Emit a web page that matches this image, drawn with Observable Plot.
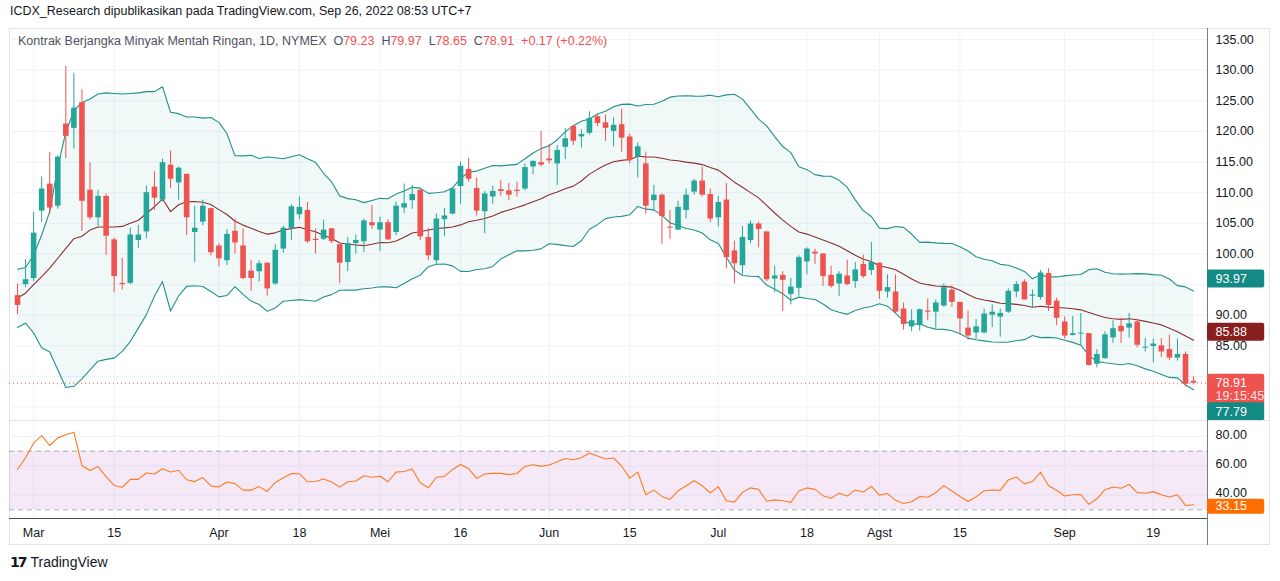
<!DOCTYPE html>
<html><head><meta charset="utf-8">
<script src="https://cdn.jsdelivr.net/npm/d3@7"></script>
<script src="https://cdn.jsdelivr.net/npm/@observablehq/plot@0.6"></script>
<style>
body{margin:0;background:#fff;font-family:"Liberation Sans",Arial,sans-serif;color:#131722;}
#wrap{position:relative;width:1280px;height:581px;overflow:hidden;}
.abs{position:absolute;}
#hdr{left:10px;top:4px;font-size:12.5px;}
#leg{left:18px;top:34px;font-size:12.5px;color:#50535e;}
#leg .v{color:#ef5350;}
#frame{left:9px;top:28px;width:1261px;height:517px;border:1px solid #e0e3eb;box-sizing:border-box;}
#foot{left:10px;top:554px;font-size:14px;color:#131722;}
#foot b{font-family:"DejaVu Sans";font-weight:900;letter-spacing:-2px;margin-right:5px;}
</style></head><body><div id="wrap">
<div id="hdr" class="abs">ICDX_Research dipublikasikan pada TradingView.com, Sep 26, 2022 08:53 UTC+7</div>
<div id="frame" class="abs"></div>
<div id="price" class="abs" style="left:9px;top:28px"></div>
<div id="rsi" class="abs" style="left:9px;top:420px"></div>
<div id="leg" class="abs">Kontrak Berjangka Minyak Mentah Ringan, 1D, NYMEX&nbsp; O<span class="v">79.23</span>&nbsp; H<span class="v">79.97</span>&nbsp; L<span class="v">78.65</span>&nbsp; C<span class="v">78.91</span>&nbsp; <span class="v">+0.17 (+0.22%)</span></div>
<div id="foot" class="abs"><b>17</b>TradingView</div>
</div>
<script>
const opens=[93.2,95.0,96.0,107.0,111.4,107.8,121.2,120.5,124.7,110.4,105.9,109.4,102.3,95.2,95.2,102.2,103.6,110.9,108.8,114.5,111.6,113.0,103.5,105.2,107.4,101.3,98.9,103.7,101.3,97.2,97.1,98.5,95.1,100.8,104.1,106.4,107.1,102.4,102.4,104.1,101.5,98.6,101.7,102.0,105.1,103.9,105.1,103.5,107.5,108.7,110.4,102.7,98.9,105.6,106.5,111.0,113.8,110.7,106.9,109.3,110.5,110.3,110.4,110.6,114.2,114.9,115.5,114.7,117.4,120.8,119.1,119.7,122.4,121.4,120.0,121.1,119.1,115.8,114.7,108.7,109.6,104.3,103.9,107.1,110.1,111.9,109.7,105.9,108.8,100.5,98.1,102.2,104.9,103.6,95.9,96.5,93.4,94.4,98.7,100.3,100.0,96.5,95.1,96.4,95.5,98.3,97.3,98.5,93.8,93.8,91.0,88.1,88.3,90.7,90.5,91.5,94.1,92.1,87.9,87.1,87.1,90.0,89.7,90.5,93.8,95.4,93.1,92.9,96.8,92.3,88.9,86.7,87.0,87.0,82.0,82.9,86.3,88.2,87.9,88.9,84.7,84.9,85.0,84.4,83.0,83.6,79.23];
const highs=[95.1,99.1,106.8,112.6,116.6,116.0,130.6,129.5,126.8,114.9,110.4,109.8,102.6,99.3,104.2,104.7,111.1,113.4,115.5,116.8,114.2,113.0,107.8,108.8,107.4,101.7,104.0,105.7,104.1,98.9,98.9,98.5,101.5,104.5,108.1,109.3,108.4,104.1,105.5,104.2,101.5,102.7,103.1,105.7,107.9,106.0,105.6,108.5,111.4,111.2,110.5,104.2,106.5,107.4,110.8,115.0,115.6,112.4,110.2,111.1,112.0,111.5,111.7,114.7,115.2,120.0,117.9,117.7,120.5,121.0,120.3,123.2,122.7,122.7,122.2,123.6,119.6,118.1,116.6,111.2,109.8,107.1,108.6,110.6,112.2,114.2,110.6,109.4,111.5,102.1,104.5,105.4,105.2,103.6,98.0,97.1,96.0,99.7,101.0,100.8,100.0,98.0,97.1,99.0,98.6,99.8,101.9,98.5,96.6,96.6,92.0,90.9,91.0,92.7,92.5,95.1,94.8,92.2,90.7,89.3,91.0,91.7,91.0,94.3,95.5,95.8,94.1,97.3,97.6,92.8,89.7,89.8,90.3,87.0,84.4,87.3,89.1,89.5,90.3,89.3,86.2,86.1,86.2,86.8,86.1,84.0,79.97];
const lows=[90.1,94.5,95.5,105.2,106.5,107.3,115.6,117.1,103.7,105.5,104.5,99.8,93.7,94.1,95.0,100.9,102.5,107.1,108.5,110.7,108.8,103.0,98.6,104.6,99.7,97.9,98.1,100.0,95.8,93.9,95.4,93.1,94.9,100.1,102.2,105.6,101.7,100.0,102.2,101.7,95.2,97.1,100.0,100.2,104.0,100.4,102.2,103.0,106.6,107.3,102.2,98.9,98.2,102.8,106.4,108.1,111.7,106.2,103.3,108.1,109.4,108.7,109.3,110.3,112.9,114.2,114.7,111.2,115.4,117.7,117.3,119.4,120.8,118.4,117.5,116.6,114.7,112.4,106.5,106.9,101.6,102.4,103.8,105.7,109.6,109.3,105.1,104.4,97.6,95.1,96.6,101.7,101.0,95.5,93.7,90.6,91.7,93.1,96.6,98.3,94.7,94.4,93.1,94.8,94.4,96.0,96.5,92.6,92.8,90.3,87.6,87.3,87.4,89.1,87.9,91.3,91.3,86.8,85.9,86.1,87.0,88.0,86.4,90.3,92.9,92.5,91.2,92.5,90.6,88.3,86.1,86.6,85.1,81.7,81.4,82.9,85.4,85.4,86.3,84.7,84.0,82.2,83.1,82.6,82.5,78.3,78.65];
const closes=[91.6,95.8,103.4,110.6,107.5,115.8,119.2,123.8,108.6,105.9,109.4,102.9,96.3,95.0,103.1,103.1,110.0,109.1,114.9,112.2,114.0,105.9,104.2,107.8,100.2,99.2,103.2,101.8,96.0,96.0,98.4,94.3,100.6,104.2,107.7,107.6,102.0,102.2,103.9,102.0,98.5,101.7,102.2,105.4,104.6,105.1,102.3,107.8,108.2,109.7,102.8,99.7,105.7,106.2,110.6,114.3,112.2,107.0,109.8,110.2,110.2,109.6,110.2,114.1,115.1,114.5,115.2,116.9,118.8,118.4,119.5,122.1,121.3,120.5,121.0,118.9,115.2,117.5,107.8,109.6,106.1,104.25,107.6,109.6,111.9,109.6,105.7,108.4,99.4,98.4,102.7,104.9,104.0,95.8,96.4,95.7,94.6,99.4,100.8,100.0,96.3,94.7,96.7,95.0,97.4,96.3,98.6,93.9,94.5,90.5,88.5,89.1,90.9,90.5,92.0,94.5,92.1,89.4,86.6,88.1,90.2,90.5,90.3,93.9,95.0,92.5,93.3,96.9,91.6,89.5,86.6,87.0,87.1,81.8,83.6,86.8,87.8,87.3,88.6,85.1,84.8,85.3,84.0,83.0,83.6,78.74,78.91];
// Bollinger values for bars before a full 20-bar window
const bbUpperEarly=[97.5,97.8,99.8,103.1,106.9,114.2,119.9,123.4,124.7,125.3,126.1,126.3,126.2,126.1,126.2,126.3,126.5,126.5,127.3];
const bbBasisEarly=[92.8,93.6,95.0,96.3,97.7,99.3,100.9,102.5,102.9,103.9,104.4,104.4,104.4,104.5,105.0,105.5,106.6,107.7,109.0];
const bbLowerEarly=[88.0,88.7,87.1,84.7,84.0,81.1,78.2,78.4,79.6,81.1,82.5,82.8,83.0,84.1,85.7,87.9,90.1,93.1,95.5];
const rsiEarly=[57.5,65.5,75.5,80.7,73.9,79.1,81.2,83.0,60.2,56.8,59.5,52.7,46.6,45.4];
const tickIdx=[2,12,25,35,45,55,66,76,87,98,107,117,130,141];
const tickLabels=["Mar","15","Apr","18","Mei","16","Jun","15","Jul","18","Agst","15","Sep","19"];
const priceTicks=[75,80,85,90,95,100,105,110,115,120,125,130,135];
const priceLabelTicks=[85,90,100,105,110,115,120,125,130,135];
const rsiTicks=[40,60,80];
const lastTags={upper:"93.97",basis:"85.88",lower:"77.79",close:"78.91",timer:"19:15:45",rsi:"33.15"};

const n=closes.length;
const bars=closes.map((c,i)=>({i,o:opens[i],h:highs[i],l:lows[i],c,up:c>=opens[i]}));
bars.forEach(b=>{if(Math.abs(b.c-b.o)<0.15){b.o2=b.o+0.08;b.c2=b.o-0.08;}else{b.o2=b.o;b.c2=b.c;}});
const bb=[];
for(let i=0;i<n;i++){
  if(i<19){bb.push({i,u:bbUpperEarly[i],m:bbBasisEarly[i],lo:bbLowerEarly[i]});continue;}
  const w=closes.slice(i-19,i+1);const m=d3.mean(w);
  const sd=Math.sqrt(d3.mean(w,v=>(v-m)**2));
  bb.push({i,u:m+2*sd,m,lo:m-2*sd});
}
const rsi=[];
for(let i=0;i<14;i++)rsi.push({i,r:rsiEarly[i]});
let S=d3.mean(d3.range(1,14),k=>Math.abs(closes[k]-closes[k-1]));
let rs=rsiEarly[13]/(100-rsiEarly[13]);
let ag=S*rs/(1+rs),al=S/(1+rs);
for(let i=14;i<n;i++){
  const ch=closes[i]-closes[i-1];
  ag=(ag*13+Math.max(ch,0))/14;al=(al*13+Math.max(-ch,0))/14;
  rsi.push({i,r:100-100/(1+ag/al)});
}
const X0=-0.993,XE=147.73,XR=155.55;
const UP="#26a69a",DN="#ef5350",GRID="#f0f3fa",AX="#787b86";
const last=bb[n-1], lastC=closes[n-1], lastR=+lastTags.rsi;
const yP=[72.82,136.8];
const tag=(v,fill,dy,txt,h=18)=>[
  Plot.rect([v],{x1:XE,x2:XE+7.1,y1:d=>d,y2:d=>d,insetTop:-h/2,insetBottom:-h/2,dy,fill,rx:2}),
  Plot.text([v],{x:XE+1,y:d=>d,dy,text:()=>txt,fill:"#fff",textAnchor:"start",fontSize:12.5})
];
const price=Plot.plot({
  width:1261,height:392,margin:0,
  x:{domain:[X0,XR],axis:null},y:{domain:yP,axis:null},
  style:{fontFamily:"Liberation Sans, Arial, sans-serif",overflow:"visible"},
  marks:[
    Plot.ruleY(priceTicks,{x1:X0,x2:XE,stroke:GRID}),
    Plot.ruleX(tickIdx,{y1:yP[0],y2:yP[1],stroke:GRID}),
    Plot.areaY(bb,{x:"i",y1:"lo",y2:"u",fill:UP,fillOpacity:0.07}),
    Plot.line(bb,{x:"i",y:"u",stroke:"#22918a",strokeWidth:1.1}),
    Plot.line(bb,{x:"i",y:"lo",stroke:"#22918a",strokeWidth:1.1}),
    Plot.line(bb,{x:"i",y:"m",stroke:"#8a2f2f",strokeWidth:1.1}),
    Plot.ruleY([lastC],{x1:X0,x2:XE,stroke:DN,strokeDasharray:"1,3"}),
    Plot.ruleX(bars,{x:"i",y1:"l",y2:"h",stroke:d=>d.up?UP:DN,strokeWidth:1}),
    Plot.ruleX(bars,{x:"i",y1:"o2",y2:"c2",stroke:d=>d.up?UP:DN,strokeWidth:5.6}),
    Plot.ruleX([XE],{y1:yP[0],y2:yP[1],stroke:AX}),
    Plot.text(priceLabelTicks,{x:XE+1,y:d=>d,text:d=>d.toFixed(2),textAnchor:"start",fontSize:12.5,fill:"#131722"}),
    ...tag(last.u,"#138a84",-12,lastTags.upper),
    ...tag(last.m,"#8a1f1f",-8,lastTags.basis),
    Plot.rect([lastC],{x1:XE,x2:XE+7.1,y1:d=>d,y2:d=>d,insetTop:-9,insetBottom:-23,fill:DN,rx:2}),
    Plot.text([lastC],{x:XE+1,y:d=>d,text:()=>lastTags.close,fill:"#fff",textAnchor:"start",fontSize:12.5}),
    Plot.text([lastC],{x:XE+1,y:d=>d,dy:13,text:()=>lastTags.timer,fill:"#fff",fillOpacity:0.85,textAnchor:"start",fontSize:12.5}),
    ...tag(last.lo,"#138a84",22,lastTags.lower)
  ]
});
document.getElementById("price").append(price);
const yR=[5.63,90.96];
const rsiPlot=Plot.plot({
  width:1261,height:125,margin:0,
  x:{domain:[X0,XR],axis:null},y:{domain:yR,axis:null},
  style:{fontFamily:"Liberation Sans, Arial, sans-serif",overflow:"visible"},
  marks:[
    Plot.ruleY([90.96],{x1:X0,x2:XR,stroke:"#e0e3eb"}),
    Plot.ruleY(rsiTicks,{x1:X0,x2:XE,stroke:GRID}),
    Plot.ruleX(tickIdx,{y1:24.06,y2:90.96,stroke:GRID}),
    Plot.rect([0],{x1:X0,x2:XE,y1:30,y2:70,fill:"#9c27b0",fillOpacity:0.1}),
    Plot.ruleY([30,70],{x1:X0,x2:XE,stroke:AX,strokeOpacity:0.6,strokeDasharray:"5,4"}),
    Plot.line(rsi,{x:"i",y:"r",stroke:"#ff7a1f",strokeWidth:1.1}),
    Plot.ruleY([24.06],{x1:X0,x2:XE,stroke:"#4a4d57"}),
    Plot.ruleX([XE],{y1:yR[0],y2:yR[1],stroke:AX}),
    Plot.text(tickIdx,{x:d=>d,y:14.5,text:(d,k)=>tickLabels[k],fontSize:12.5,fill:"#131722"}),
    Plot.text(rsiTicks,{x:XE+1,y:d=>d,dy:-2,text:d=>d.toFixed(2),textAnchor:"start",fontSize:12.5,fill:"#131722"}),
    Plot.rect([lastR],{x1:XE,x2:XE+7.1,y1:d=>d,y2:d=>d,insetTop:-7,insetBottom:-8,dy:1,fill:"#ff6d00",rx:2}),
    Plot.text([lastR],{x:XE+1,y:d=>d,dy:1,text:()=>lastTags.rsi,fill:"#fff",textAnchor:"start",fontSize:12.5})
  ]
});
document.getElementById("rsi").append(rsiPlot);
</script></body></html>
